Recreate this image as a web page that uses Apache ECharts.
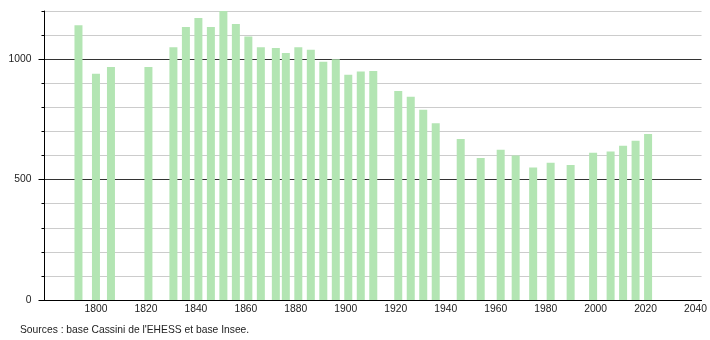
<!DOCTYPE html>
<html>
<head>
<meta charset="utf-8">
<script src="https://cdn.jsdelivr.net/npm/echarts@6/dist/echarts.min.js"></script>
<style>html,body{margin:0;padding:0;background:#fff;}#c{width:710px;height:340px;}</style>
</head>
<body>
<div id="c"></div>
<script>
var years = [1793,1800,1806,1821,1831,1836,1841,1846,1851,1856,1861,1866,1872,1876,1881,1886,1891,1896,1901,1906,1911,1921,1926,1931,1936,1946,1954,1962,1968,1975,1982,1990,1999,2006,2011,2016,2021];
var population = [1141,939,967,967,1050,1134,1171,1134,1200,1146,1094,1050,1046,1026,1050,1039,989,1000,935,949,951,868,844,790,734,668,590,624,600,550,570,561,611,617,640,661,689];
var xTicks = [1800,1820,1840,1860,1880,1900,1920,1940,1960,1980,2000,2020,2040];
var yLabels = [0,500,1000];
var sourceText = "Sources : base Cassini de l'EHESS et base Insee.";

var data = years.map(function(y,i){return [y, population[i]];});
var chart = echarts.init(document.getElementById('c'), null, {renderer:'canvas'});
var font = "'Liberation Sans', Arial, sans-serif";
function plain(v){return String(Math.round(v));}
chart.setOption({
  animation:false,
  backgroundColor:'#fff',
  grid:{left:44.5,right:8,top:11,bottom:40,containLabel:false},
  xAxis:{
    type:'value', min:1779.4, max:2042.4,
    axisLine:{show:true,lineStyle:{color:'#000',width:1}},
    axisTick:{show:false},
    splitLine:{show:false},
    axisLabel:{customValues:xTicks, formatter:plain, color:'#222', fontSize:10.3, fontFamily:font, margin:4, showMinLabel:true, showMaxLabel:true}
  },
  yAxis:[{
    type:'value', min:0, max:1200, interval:100,
    axisLine:{show:true,lineStyle:{color:'#000',width:1}},
    axisTick:{show:true,length:3,lineStyle:{color:'#000'}},
    axisLabel:{customValues:yLabels,formatter:plain,color:'#222',fontSize:10.3,fontFamily:font,margin:13},
    splitLine:{show:true,lineStyle:{color:['#333','#ccc','#ccc','#ccc','#ccc'],width:1}}
  },{
    type:'value', min:0, max:1200, position:'left',
    axisLine:{show:false},
    axisTick:{show:true,length:6,customValues:yLabels,lineStyle:{color:'#000'}},
    axisLabel:{show:false},
    splitLine:{show:false}
  }],
  series:[{
    type:'bar', data:data, barWidth:8, yAxisIndex:0,
    itemStyle:{color:'#b3e5b3'}
  }],
  graphic:[{
    type:'text', left:20, top:325,
    style:{text:sourceText, fill:'#222', font:'10.3px ' + font}
  }]
});
</script>
</body>
</html>
